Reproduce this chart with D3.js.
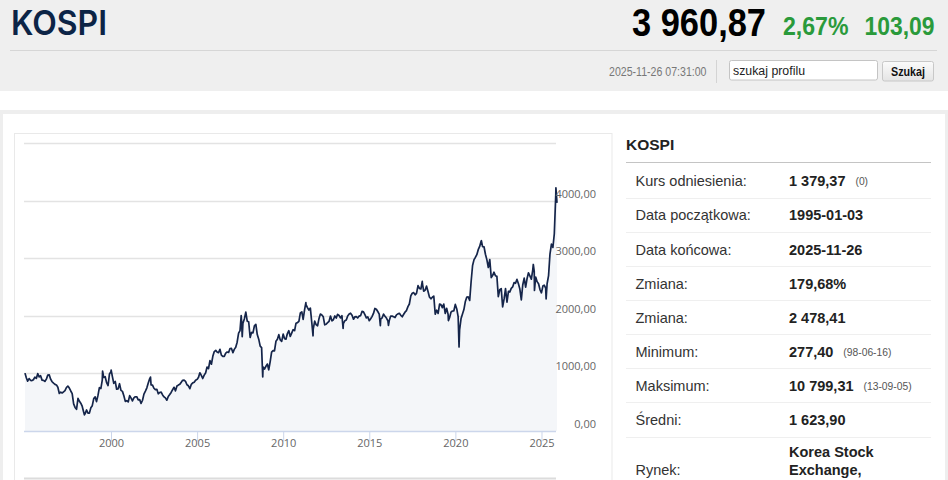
<!DOCTYPE html>
<html>
<head>
<meta charset="utf-8">
<script src="https://cdn.jsdelivr.net/npm/d3@7"></script>
<style>
  html, body { margin: 0; padding: 0; background: #ffffff; }
  svg { display: block; }
</style>
</head>
<body>
<script>
// ---------------- DATA ----------------
const indexName = "KOSPI";
const lastPrice = "3 960,87";
const changePct = "2,67%";
const changeAbs = "103,09";
const quoteTime = "2025-11-26 07:31:00";
const searchPlaceholder = "szukaj profilu";
const searchButton = "Szukaj";

// Month-end closes of KOSPI (Jan..Dec)
const closes1995 = [
  925, 865, 910, 880, 875, 890, 935, 912, 995, 938, 960, 883,
  880, 860, 900, 970, 975, 900, 855, 830, 810, 800, 760, 651,
  675, 660, 680, 700, 755, 780, 745, 695, 650, 470, 410, 376,
  567, 520, 482, 430, 330, 297, 365, 310, 310, 405, 440, 562,
  592, 510, 618, 753, 737, 884, 930, 943, 840, 790, 990, 1028
];
const closes2000 = [
  943, 828, 861, 725, 731, 821, 705, 688, 613, 514, 526, 504,
  615, 575, 523, 575, 595, 595, 541, 545, 479, 534, 640, 693,
  750, 827, 907, 800, 796, 742, 717, 723, 646, 669, 676, 627,
  592, 575, 535, 600, 633, 670, 717, 759, 697, 780, 797, 810,
  848, 880, 883, 862, 803, 785, 735, 810, 835, 845, 880, 896
];
const closes2005 = [
  932, 1011, 966, 911, 970, 1008, 1111, 1083, 1221, 1159, 1297, 1379,
  1399, 1372, 1359, 1419, 1317, 1295, 1297, 1352, 1371, 1364, 1432, 1434,
  1360, 1417, 1453, 1542, 1700, 1743, 1933, 1873, 1946, 2064, 1906, 1897,
  1624, 1711, 1704, 1825, 1852, 1674, 1594, 1474, 1448, 1113, 1076, 1124,
  1162, 1063, 1206, 1369, 1395, 1390, 1557, 1591, 1673, 1580, 1555, 1682
];
const closes2010 = [
  1602, 1594, 1692, 1741, 1641, 1698, 1759, 1742, 1872, 1882, 1905, 2051,
  2069, 1939, 2106, 2192, 2142, 2100, 2133, 1880, 1770, 1909, 1847, 1826,
  1955, 2030, 2014, 1982, 1843, 1854, 1881, 1905, 1996, 1912, 1932, 1997,
  1962, 2026, 2005, 1963, 2001, 1863, 1914, 1926, 1997, 2030, 2045, 2011,
  1941, 1980, 1986, 1962, 1995, 2002, 2076, 2068, 2020, 1964, 1981, 1916
];
const closes2015 = [
  1949, 1986, 2041, 2127, 2114, 2074, 2030, 1941, 1963, 2029, 1991, 1961,
  1912, 1917, 1996, 1994, 1983, 1970, 2016, 2034, 2043, 2008, 1983, 2026,
  2067, 2091, 2160, 2205, 2347, 2392, 2402, 2363, 2394, 2523, 2476, 2467,
  2566, 2427, 2445, 2515, 2423, 2326, 2295, 2322, 2343, 2029, 2097, 2041,
  2204, 2195, 2141, 2203, 2041, 2131, 2025, 1967, 2063, 2083, 2087, 2198
];
const closes2020 = [
  2119, 1987, 1755, 1947, 2030, 2108, 2249, 2326, 2327, 2267, 2591, 2873,
  2976, 3013, 3061, 3148, 3204, 3297, 3202, 3199, 3069, 2971, 2839, 2977,
  2663, 2699, 2757, 2695, 2685, 2332, 2452, 2472, 2155, 2293, 2473, 2236,
  2425, 2412, 2476, 2501, 2577, 2564, 2632, 2556, 2465, 2277, 2535, 2655,
  2497, 2642, 2747, 2692, 2636, 2798, 2770, 2674, 2593, 2556, 2456, 2399
];
const closes2025 = [2517, 2532, 2481, 2556, 2698, 3072, 3245, 3186, 3425, 4107, 3961];

// Intra-month extremes visible on the daily chart
const extraDates  = ["1995-01-03","1998-06-16","1999-07-07","2000-01-04","2002-04-18","2007-07-25","2007-08-16",
                     "2008-10-24","2011-04-27","2011-09-26","2013-06-25","2015-08-24","2016-02-12",
                     "2018-01-29","2019-08-06","2020-03-19","2021-07-06","2024-07-11","2024-08-05",
                     "2025-04-09","2025-11-03"];
const extraValues = [1005, 280, 1040, 1059, 937, 2004, 1638,
                     938, 2228, 1652, 1780, 1829, 1835,
                     2598, 1917, 1457, 3305, 2891, 2441,
                     2294, 4221];
const firstMonth = "1995-01";
const lastDate = "2025-11-26";

const yTicks = [0, 1000, 2000, 3000, 4000, 5000];
const xTickYears = [2000, 2005, 2010, 2015, 2020, 2025];

// Side table
const statLabels = ["Kurs odniesienia:", "Data początkowa:", "Data końcowa:", "Zmiana:", "Zmiana:", "Minimum:", "Maksimum:", "Średni:"];
const statValues = ["1 379,37", "1995-01-03", "2025-11-26", "179,68%", "2 478,41", "277,40", "10 799,31", "1 623,90"];
const statNotes  = ["(0)", "", "", "", "", "(98-06-16)", "(13-09-05)", ""];
const marketLabel = "Rynek:";
const marketValue = ["Korea Stock", "Exchange,"];

// ---------------- BUILD SERIES ----------------
const parseDay = d3.timeParse("%Y-%m-%d");
const monthly = [].concat(closes1995, closes2000, closes2005, closes2010, closes2015, closes2020, closes2025);
const start = d3.timeParse("%Y-%m")(firstMonth);
let series = monthly.map((v, i) => {
  const d = (i === monthly.length - 1) ? parseDay(lastDate)
          : new Date(start.getFullYear(), start.getMonth() + i + 1, 0);
  return { date: d, value: v };
});
extraDates.forEach((s, i) => series.push({ date: parseDay(s), value: extraValues[i] }));
series.sort((a, b) => a.date - b.date);

// ---------------- PAGE ----------------
const W = 948, H = 480;
const svg = d3.select("body").append("svg").attr("width", W).attr("height", H);
const narrow = "'Liberation Sans Narrow','Arial Narrow','Liberation Sans',Arial,sans-serif";
const sans = "'Liberation Sans',Arial,Helvetica,sans-serif";

const defs = svg.append("defs");
const grad = defs.append("linearGradient").attr("id", "btn").attr("x1", 0).attr("y1", 0).attr("x2", 0).attr("y2", 1);
grad.append("stop").attr("offset", "0%").attr("stop-color", "#fbfbfb");
grad.append("stop").attr("offset", "100%").attr("stop-color", "#e4e4e4");

// page backgrounds
svg.append("rect").attr("x", 0).attr("y", 0).attr("width", W).attr("height", 91).attr("fill", "#efefef");
svg.append("rect").attr("x", 0).attr("y", 110).attr("width", W).attr("height", H - 110).attr("fill", "#eeeeee");
svg.append("rect").attr("x", 3).attr("y", 114).attr("width", 942).attr("height", H - 114).attr("fill", "#ffffff");

// header
svg.append("text").attr("x", 11).attr("y", 34.5)
  .attr("font-family", "Inter,'Liberation Sans',sans-serif").attr("font-weight", 600).attr("font-size", 34.5)
  .attr("fill", "#0c2446").attr("textLength", 96).attr("lengthAdjust", "spacingAndGlyphs")
  .text(indexName);
svg.append("line").attr("x1", 10).attr("x2", 937).attr("y1", 50.5).attr("y2", 50.5)
  .attr("stroke", "#d6d6d6").attr("stroke-width", 1);

svg.append("text").attr("x", 632).attr("y", 36).attr("font-family", narrow).attr("font-weight", "bold")
  .attr("font-size", 39).attr("fill", "#000").attr("textLength", 134).attr("lengthAdjust", "spacingAndGlyphs")
  .text(lastPrice);
svg.append("text").attr("x", 783).attr("y", 35).attr("font-family", narrow).attr("font-weight", "bold")
  .attr("font-size", 26.5).attr("fill", "#2a9a3b").attr("textLength", 65.5).attr("lengthAdjust", "spacingAndGlyphs")
  .text(changePct);
svg.append("text").attr("x", 864.5).attr("y", 35).attr("font-family", narrow).attr("font-weight", "bold")
  .attr("font-size", 26.5).attr("fill", "#2a9a3b").attr("textLength", 70).attr("lengthAdjust", "spacingAndGlyphs")
  .text(changeAbs);

svg.append("text").attr("x", 609).attr("y", 75.5).attr("font-family", narrow).attr("font-size", 12.5)
  .attr("fill", "#777").attr("textLength", 97.5).attr("lengthAdjust", "spacingAndGlyphs").text(quoteTime);
svg.append("line").attr("x1", 716.5).attr("x2", 716.5).attr("y1", 60).attr("y2", 83)
  .attr("stroke", "#d4d4d4");
svg.append("rect").attr("x", 729.5).attr("y", 60.5).attr("width", 148).attr("height", 19.5).attr("rx", 2)
  .attr("fill", "#fff").attr("stroke", "#c4c4c4");
svg.append("text").attr("x", 733).attr("y", 74.5).attr("font-family", sans).attr("font-size", 12.3)
  .attr("fill", "#222").attr("textLength", 72).attr("lengthAdjust", "spacingAndGlyphs").text(searchPlaceholder);
svg.append("rect").attr("x", 882.5).attr("y", 61.5).attr("width", 51).attr("height", 19.5).attr("rx", 2)
  .attr("fill", "url(#btn)").attr("stroke", "#c8c8c8");
svg.append("text").attr("x", 891).attr("y", 75.5).attr("font-family", sans).attr("font-weight", "bold")
  .attr("font-size", 12.5).attr("fill", "#111").attr("textLength", 34).attr("lengthAdjust", "spacingAndGlyphs")
  .text(searchButton);

// chart box
svg.append("rect").attr("x", 14.5).attr("y", 133.5).attr("width", 597.5).attr("height", 360)
  .attr("fill", "none").attr("stroke", "#e9e9e9");

// ---------------- CHART ----------------
const x = d3.scaleTime().domain([parseDay("1995-01-03"), parseDay(lastDate)]).range([25, 557]);
const y = d3.scaleLinear().domain([0, 5000]).range([431, 143]);
const gridX0 = 24, gridX1 = 556;
const fmt = d3.formatLocale({ decimal: ",", thousands: " ", grouping: [3], currency: ["", ""] }).format(".2f");

const g = svg.append("g");
// gridlines
g.selectAll("line.grid").data(yTicks.filter(t => t > 0)).enter().append("line")
  .attr("class", "grid")
  .attr("x1", gridX0).attr("x2", gridX1)
  .attr("y1", d => Math.round(y(d)) + 0.5).attr("y2", d => Math.round(y(d)) + 0.5)
  .attr("stroke", "#e3e3e3").attr("stroke-width", 1.5);

// area + line
const area = d3.area().x(d => x(d.date)).y0(y(0)).y1(d => y(d.value));
const line = d3.line().x(d => x(d.date)).y(d => y(d.value));
g.append("path").datum(series).attr("d", area).attr("fill", "#f4f6f9");

// x axis
const xAxis = d3.axisBottom(x)
  .tickValues(xTickYears.map(yr => new Date(yr, 0, 1)))
  .tickFormat(d3.timeFormat("%Y"))
  .tickSizeInner(10).tickSizeOuter(0).tickPadding(2);
const xa = g.append("g").attr("transform", "translate(0,431.5)").call(xAxis);
xa.select(".domain").attr("d", `M${gridX0},0H${gridX1}`).attr("stroke", "#ccd6eb").attr("stroke-width", 1.5);
xa.selectAll(".tick line").attr("stroke", "#ccd6eb");
xa.selectAll(".tick text").attr("font-family", "'Open Sans',sans-serif").attr("font-size", 11)
  .attr("fill", "#666").attr("dy", "0.36em");

g.append("path").datum(series).attr("d", line).attr("fill", "none")
  .attr("stroke", "#15254a").attr("stroke-width", 1.7).attr("stroke-linejoin", "round");

// y labels
g.selectAll("text.ylab").data(yTicks.filter(t => t < 5000)).enter().append("text")
  .attr("class", "ylab")
  .attr("x", 596).attr("y", d => y(d) - 3)
  .attr("text-anchor", "end")
  .attr("font-family", "'Open Sans',sans-serif").attr("font-size", 11).attr("fill", "#666")
  .text(d => fmt(d));

// bottom navigator line
svg.append("line").attr("x1", gridX0).attr("x2", gridX1).attr("y1", 478.5).attr("y2", 478.5)
  .attr("stroke", "#dcdcdc").attr("stroke-width", 2);

// ---------------- SIDE TABLE ----------------
svg.append("text").attr("x", 626).attr("y", 150).attr("font-family", sans).attr("font-weight", "bold")
  .attr("font-size", 15.5).attr("fill", "#222").text(indexName);
svg.append("line").attr("x1", 626).attr("x2", 931).attr("y1", 162.5).attr("y2", 162.5)
  .attr("stroke", "#c4c4c4").attr("stroke-width", 1.2);

const rowY = i => 181 + 34.15 * i;
statLabels.forEach((lab, i) => {
  const cy = rowY(i);
  svg.append("text").attr("x", 635.5).attr("y", cy + 5.3).attr("font-family", sans)
    .attr("font-size", 14.5).attr("fill", "#333").text(lab);
  const vt = svg.append("text").attr("x", 789).attr("y", cy + 5.3).attr("font-family", sans)
    .attr("font-weight", "bold").attr("font-size", 14.5).attr("fill", "#222").text(statValues[i]);
  if (statNotes[i]) {
    const w = vt.node().getComputedTextLength();
    svg.append("text").attr("x", 789 + w + 10).attr("y", cy + 4.3).attr("font-family", sans)
      .attr("font-size", 10.3).attr("fill", "#555").text(statNotes[i]);
  }
  svg.append("line").attr("x1", 626).attr("x2", 931).attr("y1", Math.round(cy + 16.5) + 0.5)
    .attr("y2", Math.round(cy + 16.5) + 0.5).attr("stroke", "#efefef");
});
svg.append("text").attr("x", 635.5).attr("y", 475.3).attr("font-family", sans)
  .attr("font-size", 14.5).attr("fill", "#333").text(marketLabel);
marketValue.forEach((t, i) => {
  svg.append("text").attr("x", 789).attr("y", 457 + 17.6 * i).attr("font-family", sans)
    .attr("font-weight", "bold").attr("font-size", 14.5).attr("fill", "#222").text(t);
});
</script>
</body>
</html>
